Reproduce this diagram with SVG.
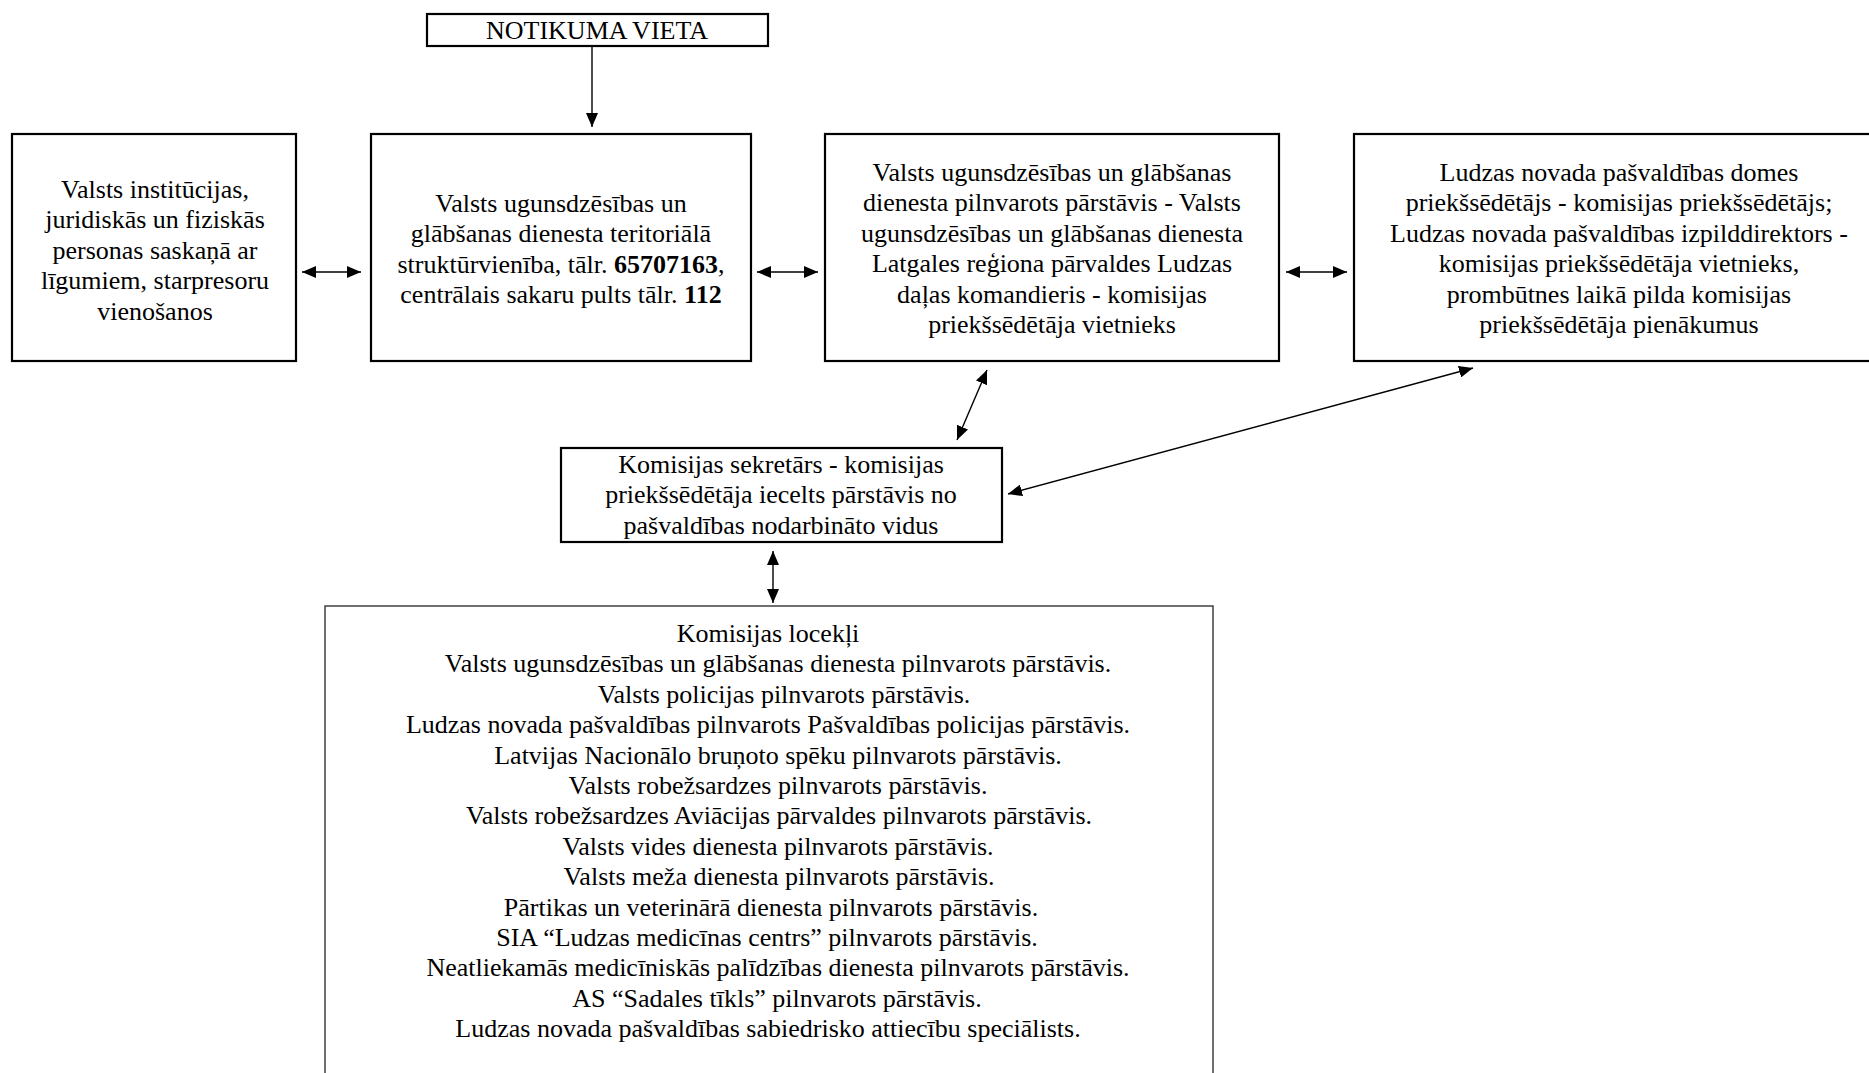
<svg xmlns="http://www.w3.org/2000/svg" width="1869" height="1073" viewBox="0 0 1869 1073">
<style>
.box{fill:#fff;stroke:#000;stroke-width:2.2}
.mbox{fill:#fff;stroke:#333;stroke-width:1.4}
.t{font-family:"Liberation Serif","Times New Roman",serif;font-size:26px;text-anchor:middle;fill:#000}
.b{font-weight:bold}
.c{stroke:#000;stroke-width:1.4;fill:none}
</style>
<defs>
<marker id="ah" viewBox="0 0 14 12" refX="14" refY="6" markerWidth="14" markerHeight="12" markerUnits="userSpaceOnUse" orient="auto-start-reverse">
<path d="M0,0 L14,6 L0,12 z" fill="#000"/>
</marker>
</defs>
<rect width="1869" height="1073" fill="#fff"/>

<g id="connectors">
<line class="c" x1="592" y1="47" x2="592" y2="127" marker-end="url(#ah)"/>
<line class="c" x1="302" y1="272" x2="361" y2="272" marker-start="url(#ah)" marker-end="url(#ah)"/>
<line class="c" x1="757" y1="272" x2="818" y2="272" marker-start="url(#ah)" marker-end="url(#ah)"/>
<line class="c" x1="1286" y1="272" x2="1347" y2="272" marker-start="url(#ah)" marker-end="url(#ah)"/>
<line class="c" x1="987" y1="370" x2="957" y2="440" marker-start="url(#ah)" marker-end="url(#ah)"/>
<line class="c" x1="1473" y1="368" x2="1008" y2="494" marker-start="url(#ah)" marker-end="url(#ah)"/>
<line class="c" x1="773" y1="551" x2="773" y2="603" marker-start="url(#ah)" marker-end="url(#ah)"/>
</g>

<g id="notikuma-vieta">
<rect class="box" x="427" y="14" width="341" height="32"/>
<text class="t" x="597" y="39">NOTIKUMA VIETA</text>
</g>

<g id="valsts-institucijas">
<rect class="box" x="12" y="134" width="284" height="227"/>
<text class="t" x="155" y="198">Valsts institūcijas,</text>
<text class="t" x="155" y="228.4">juridiskās un fiziskās</text>
<text class="t" x="155" y="258.8">personas saskaņā ar</text>
<text class="t" x="155" y="289.2">līgumiem, starpresoru</text>
<text class="t" x="155" y="319.6">vienošanos</text>
</g>

<g id="vugd-strukturvieniba">
<rect class="box" x="371" y="134" width="380" height="227"/>
<text class="t" x="561" y="212">Valsts ugunsdzēsības un</text>
<text class="t" x="561" y="242.4">glābšanas dienesta teritoriālā</text>
<text class="t" x="561" y="272.8">struktūrvienība, tālr. <tspan class="b">65707163</tspan>,</text>
<text class="t" x="561" y="303.2">centrālais sakaru pults tālr. <tspan class="b">112</tspan></text>
</g>

<g id="vugd-parstavis">
<rect class="box" x="825" y="134" width="454" height="227"/>
<text class="t" x="1052" y="181">Valsts ugunsdzēsības un glābšanas</text>
<text class="t" x="1052" y="211.4">dienesta pilnvarots pārstāvis - Valsts</text>
<text class="t" x="1052" y="241.8">ugunsdzēsības un glābšanas dienesta</text>
<text class="t" x="1052" y="272.2">Latgales reģiona pārvaldes Ludzas</text>
<text class="t" x="1052" y="302.6">daļas komandieris - komisijas</text>
<text class="t" x="1052" y="333">priekšsēdētāja vietnieks</text>
</g>

<g id="domes-priekssedetajs">
<rect class="box" x="1354" y="134" width="530" height="227"/>
<text class="t" x="1619" y="181">Ludzas novada pašvaldības domes</text>
<text class="t" x="1619" y="211.4">priekšsēdētājs - komisijas priekšsēdētājs;</text>
<text class="t" x="1619" y="241.8">Ludzas novada pašvaldības izpilddirektors -</text>
<text class="t" x="1619" y="272.2">komisijas priekšsēdētāja vietnieks,</text>
<text class="t" x="1619" y="302.6">prombūtnes laikā pilda komisijas</text>
<text class="t" x="1619" y="333">priekšsēdētāja pienākumus</text>
</g>

<g id="sekretars">
<rect class="box" x="561" y="448" width="441" height="94"/>
<text class="t" x="781" y="473">Komisijas sekretārs - komisijas</text>
<text class="t" x="781" y="503.4">priekšsēdētāja iecelts pārstāvis no</text>
<text class="t" x="781" y="533.8">pašvaldības nodarbināto vidus</text>
</g>

<g id="komisijas-loceklji">
<rect class="mbox" x="325" y="606" width="888" height="480"/>
<text class="t" x="768" y="642">Komisijas locekļi</text>
<text class="t" x="778" y="672.4">Valsts ugunsdzēsības un glābšanas dienesta pilnvarots pārstāvis.</text>
<text class="t" x="784" y="702.8">Valsts policijas pilnvarots pārstāvis.</text>
<text class="t" x="768" y="733.2">Ludzas novada pašvaldības pilnvarots Pašvaldības policijas pārstāvis.</text>
<text class="t" x="778" y="763.6">Latvijas Nacionālo bruņoto spēku pilnvarots pārstāvis.</text>
<text class="t" x="778" y="794">Valsts robežsardzes pilnvarots pārstāvis.</text>
<text class="t" x="779" y="824.4">Valsts robežsardzes Aviācijas pārvaldes pilnvarots pārstāvis.</text>
<text class="t" x="778" y="854.8">Valsts vides dienesta pilnvarots pārstāvis.</text>
<text class="t" x="779" y="885.2">Valsts meža dienesta pilnvarots pārstāvis.</text>
<text class="t" x="771" y="915.6">Pārtikas un veterinārā dienesta pilnvarots pārstāvis.</text>
<text class="t" x="767" y="946">SIA “Ludzas medicīnas centrs” pilnvarots pārstāvis.</text>
<text class="t" x="778" y="976.4">Neatliekamās medicīniskās palīdzības dienesta pilnvarots pārstāvis.</text>
<text class="t" x="777" y="1006.8">AS “Sadales tīkls” pilnvarots pārstāvis.</text>
<text class="t" x="768" y="1037.2">Ludzas novada pašvaldības sabiedrisko attiecību speciālists.</text>
</g>
</svg>
